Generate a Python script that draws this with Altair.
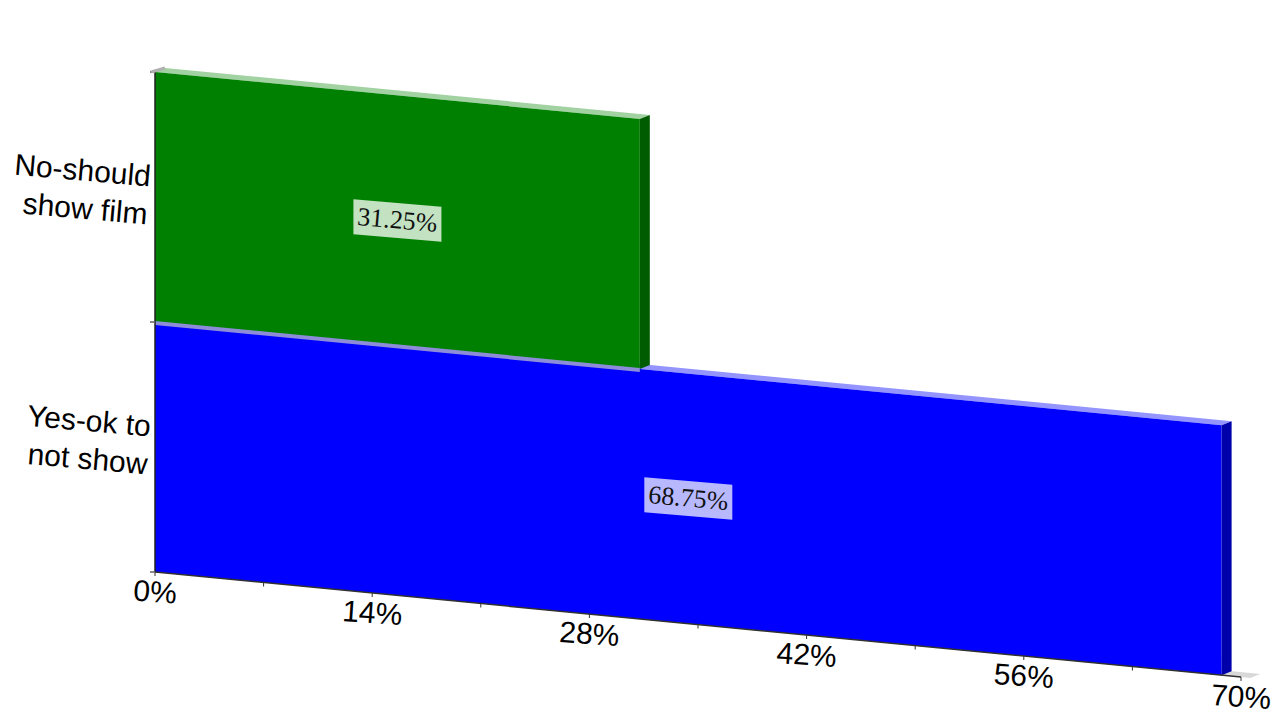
import altair as alt
import pandas as pd

# ---- data ----
categories = ["No-should show film", "Yes-ok to not show"]
category_labels = ["No-should\nshow film", "Yes-ok to\nnot show"]
values = [31.25, 68.75]
value_labels = ["31.25%", "68.75%"]
tick_values = [0, 14, 28, 42, 56, 70]
tick_labels = ["0%", "14%", "28%", "42%", "56%", "70%"]
minor_ticks = [0, 7, 14, 21, 28, 35, 42, 49, 56, 63, 70]
X_MAX = 70

# ---- styling ----
front_colors = ["#008000", "#0000ff"]
side_colors = ["#005c00", "#0000aa"]
top_colors = ["#a2d2a2", "#9494ff"]
box_colors = ["#c2e2c2", "#b8b8ff"]

W, H = 1086, 625
Y_MAX = 2.5
PX_Y = Y_MAX / H          # data units per pixel (vertical)
PX_X = X_MAX / W          # data units per pixel (horizontal)
SHEAR = 1.5 * PX_Y        # pseudo-3D tilt: vertical drop per percent
DX = 10 * PX_X            # depth offset (right)
DY = -4 * PX_Y            # depth offset (up)

x_scale = alt.Scale(domain=[0, X_MAX], nice=False, zero=False)
y_scale = alt.Scale(domain=[0, Y_MAX], reverse=True, nice=False, zero=False)


def enc_area(ch):
    return ch.encode(
        x=alt.X("x:Q", scale=x_scale, axis=None),
        y=alt.Y("y:Q", scale=y_scale, axis=None, stack=None),
        y2="y2:Q",
    )


def box_faces(base, v, front_h):
    front = pd.DataFrame({
        "x": [0, v],
        "y": [base, base + SHEAR * v],
        "y2": [base + front_h, base + front_h + SHEAR * v],
    })
    side = pd.DataFrame({
        "x": [v, v + DX],
        "y": [base + SHEAR * v, base + SHEAR * v + DY],
        "y2": [base + front_h + SHEAR * v, base + front_h + SHEAR * v + DY],
    })
    top = pd.DataFrame({
        "x": [0, DX, v, v + DX],
        "y": [base, base + SHEAR * DX, base + SHEAR * v, base + SHEAR * v + DY],
        "y2": [base, base + DY, base + DY + SHEAR * (v - DX), base + DY + SHEAR * v],
    })
    return front, side, top


layers = []

# floor (behind the bars)
_, _, floor = box_faces(2.0, X_MAX + 0.6, 0)
layers.append(enc_area(alt.Chart(floor).mark_area(color="#d8d8d8")))

# bars, drawn bottom-first
for i in reversed(range(len(categories))):
    front, side, top = box_faces(float(i), values[i], 1.0)
    layers.append(enc_area(alt.Chart(top).mark_area(color=top_colors[i])))
    layers.append(enc_area(alt.Chart(front).mark_area(color=front_colors[i])))
    layers.append(enc_area(alt.Chart(side).mark_area(color=side_colors[i])))

# thin lighter seam between the stacked bars (top face of the lower bar)
seam_df = pd.DataFrame({
    "x": [0, values[0]],
    "y": [1.0 - 1 * PX_Y, 1.0 - 1 * PX_Y + SHEAR * values[0]],
    "y2": [1.0 + 3 * PX_Y, 1.0 + 3 * PX_Y + SHEAR * values[0]],
})
layers.append(enc_area(alt.Chart(seam_df).mark_area(color="#8c8cd8")))

# axis lines
axis_df = pd.DataFrame({"x": [0, X_MAX], "y": [2.0, 2.0 + SHEAR * X_MAX]})
layers.append(alt.Chart(axis_df).mark_line(color="#303030", strokeWidth=1.5).encode(
    x=alt.X("x:Q", scale=x_scale, axis=None),
    y=alt.Y("y:Q", scale=y_scale, axis=None),
))

ticks_df = pd.DataFrame({
    "x": minor_ticks,
    "y": [2.0 + SHEAR * t for t in minor_ticks],
    "y2": [2.0 + SHEAR * t + 4 * PX_Y for t in minor_ticks],
})
layers.append(alt.Chart(ticks_df).mark_rule(color="#303030", strokeWidth=1).encode(
    x=alt.X("x:Q", scale=x_scale, axis=None),
    y=alt.Y("y:Q", scale=y_scale, axis=None),
    y2="y2:Q",
))

wall_df = pd.DataFrame({"x": [0], "y": [0.0], "y2": [2.0]})
layers.append(alt.Chart(wall_df).mark_rule(color="#202020", strokeWidth=1.5).encode(
    x=alt.X("x:Q", scale=x_scale, axis=None),
    y=alt.Y("y:Q", scale=y_scale, axis=None),
    y2="y2:Q",
))

ytick_df = pd.DataFrame({"x": [-5 * PX_X] * 3, "x2": [0, 0, 0], "y": [0.0, 1.0, 2.0]})
layers.append(alt.Chart(ytick_df).mark_rule(color="#606060", strokeWidth=1.5).encode(
    x=alt.X("x:Q", scale=x_scale, axis=None),
    x2="x2:Q",
    y=alt.Y("y:Q", scale=y_scale, axis=None),
))

walltop_df = pd.DataFrame({"x": [-4 * PX_X], "x2": [DX], "y": [0.0], "y2": [DY]})
layers.append(alt.Chart(walltop_df).mark_rule(color="#b0b0b0", strokeWidth=3).encode(
    x=alt.X("x:Q", scale=x_scale, axis=None),
    x2="x2:Q",
    y=alt.Y("y:Q", scale=y_scale, axis=None),
    y2="y2:Q",
))

# value label boxes and texts
lab_df = pd.DataFrame({
    "x": [v / 2 for v in values],
    "y": [i + 0.5 + SHEAR * values[i] / 2 for i in range(len(values))],
    "label": value_labels,
    "box": box_colors,
})
box_path = "M-1,-0.483 L1,-0.313 L1,0.483 L-1,0.313 Z"
layers.append(alt.Chart(lab_df).mark_point(shape=box_path, filled=True, size=7744, opacity=1, strokeWidth=0).encode(
    x=alt.X("x:Q", scale=x_scale, axis=None),
    y=alt.Y("y:Q", scale=y_scale, axis=None),
    color=alt.Color("box:N", scale=None),
))
layers.append(alt.Chart(lab_df).mark_text(
    font="Liberation Serif", fontSize=26, color="#111111", align="center", baseline="middle", angle=5
).encode(
    x=alt.X("x:Q", scale=x_scale, axis=None),
    y=alt.Y("y:Q", scale=y_scale, axis=None),
    text="label:N",
))

# category labels
cat_df = pd.DataFrame({
    "x": [0, 0],
    "y": [0.5, 1.5],
    "label": category_labels,
})
layers.append(alt.Chart(cat_df).mark_text(
    font="Liberation Sans", fontSize=30, color="black", align="right", baseline="middle",
    angle=5, lineBreak="\n", lineHeight=38, dx=-6, dy=-19
).encode(
    x=alt.X("x:Q", scale=x_scale, axis=None),
    y=alt.Y("y:Q", scale=y_scale, axis=None),
    text="label:N",
))

# x tick labels along the tilted axis
tl_df = pd.DataFrame({
    "x": tick_values,
    "y": [2.0 + SHEAR * t + 21 * PX_Y for t in tick_values],
    "label": tick_labels,
})
layers.append(alt.Chart(tl_df).mark_text(
    font="Liberation Sans", fontSize=30, color="black", align="center", baseline="middle", angle=4
).encode(
    x=alt.X("x:Q", scale=x_scale, axis=None),
    y=alt.Y("y:Q", scale=y_scale, axis=None),
    text="label:N",
))

chart = alt.layer(*layers).properties(
    width=W,
    height=H,
    autosize=alt.AutoSizeParams(type="none"),
    padding={"left": 147, "top": 64, "right": 30, "bottom": 40},
    background="white",
).configure_view(stroke=None)

chart.save("out.html", embed_options={"renderer": "svg", "actions": False})
